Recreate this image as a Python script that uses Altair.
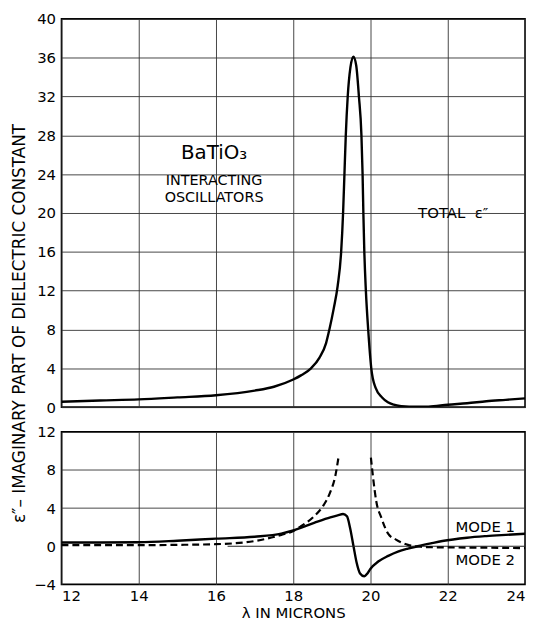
import altair as alt
import pandas as pd

# ---- data ----
tot_lam = [12.0, 13.0, 14.0, 15.0, 16.0, 17.0, 17.5, 18.0, 18.2, 18.46, 18.68, 18.85, 18.93, 19.05,
           19.15, 19.24, 19.29, 19.325, 19.36, 19.41, 19.48, 19.556, 19.63, 19.70, 19.765, 19.795,
           19.815, 19.84, 19.88, 19.94, 20.02, 20.13, 20.30, 20.45, 20.6, 20.8, 21.0, 21.5, 22.0,
           22.5, 23.0, 23.5, 24.0]
tot_val = [0.55, 0.68, 0.8, 1.0, 1.22, 1.7, 2.1, 2.85, 3.27, 4.0, 5.1, 6.6, 7.9, 10.2,
           12.5, 16.0, 20.0, 24.0, 28.0, 32.0, 35.0, 36.1, 35.2, 32.0, 28.0, 24.0,
           20.0, 16.0, 12.0, 8.0, 4.0, 2.0, 1.0, 0.5, 0.25, 0.1, 0.05, 0.05, 0.25,
           0.4, 0.6, 0.75, 0.9]

m1_lam = [12.0, 13.0, 14.0, 15.0, 16.0, 17.0, 17.69, 18.0, 18.54, 18.96, 19.15, 19.29, 19.39, 19.47,
          19.56, 19.64, 19.73, 19.84, 19.92, 20.0, 20.2, 20.46, 20.71, 20.97, 21.22, 21.56, 21.86,
          22.5, 23.0, 23.5, 24.0]
m1_val = [0.4, 0.4, 0.42, 0.58, 0.8, 1.0, 1.33, 1.67, 2.46, 3.04, 3.25, 3.38, 3.14, 1.95,
          0.0, -1.7, -2.85, -3.15, -2.85, -2.35, -1.6, -1.0, -0.55, -0.24, 0.0, 0.3, 0.55,
          0.9, 1.07, 1.2, 1.32]

m2a_lam = [12.0, 13.0, 14.0, 15.0, 16.0, 17.0, 17.69, 18.0, 18.2, 18.54, 18.79, 18.96, 19.09, 19.17]
m2a_val = [0.12, 0.12, 0.12, 0.15, 0.22, 0.55, 1.19, 1.6, 2.1, 3.14, 4.34, 5.7, 7.4, 9.3]
m2b_lam = [20.01, 20.07, 20.15, 20.28, 20.46, 20.66, 20.8, 20.97, 21.3, 21.6, 22.0, 23.0, 24.0]
m2b_val = [9.3, 7.1, 4.7, 3.0, 1.3, 0.7, 0.4, 0.15, -0.05, -0.1, -0.12, -0.15, -0.2]

x_ticks = [12, 14, 16, 18, 20, 22, 24]
top_ticks = [0, 4, 8, 12, 16, 20, 24, 28, 32, 36, 40]
bot_ticks = [-4, 0, 4, 8, 12]
bot_grid = [4, 8]
zero_from, zero_to = 16.3, 24.0

top_labels = ["BaTiO₃", "INTERACTING", "OSCILLATORS", "TOTAL\u00a0\u00a0ε″"]
top_lab_x = [15.95, 15.95, 15.95, 22.14]
top_lab_y = [26.2, 23.25, 21.5, 20.0]
top_lab_fs = [20, 14.5, 14.5, 15]

bot_labels = ["MODE 1", "MODE 2"]
bot_lab_x = [22.97, 22.97]
bot_lab_y = [2.0, -1.45]

Y_TITLE = "ε″– IMAGINARY PART OF DIELECTRIC CONSTANT"
X_TITLE = "λ IN MICRONS"
FONT = "DejaVu Sans"
W, H_TOP, H_BOT = 468, 392, 154

xscale = alt.Scale(domain=[12, 24], nice=False)

# ---- top panel ----
top_df = pd.DataFrame({"lam": tot_lam, "val": tot_val})
top_line = alt.Chart(top_df).mark_line(color="black", strokeWidth=2.4, clip=True,
                                       interpolate="monotone").encode(
    x=alt.X("lam:Q", scale=xscale,
            axis=alt.Axis(values=x_ticks, labels=False, title=None, grid=True)),
    y=alt.Y("val:Q", scale=alt.Scale(domain=[0, 40], nice=False),
            axis=alt.Axis(values=top_ticks, grid=True, labelOverlap=False, labelBound=False,
                          title=Y_TITLE,
                          titleAngle=270, titleX=-33, titleY=307, titleFontSize=17,
                          titleAlign="center", titleBaseline="bottom")),
)
top_txt_df = pd.DataFrame({"t": top_labels, "lam": top_lab_x, "val": top_lab_y, "fs": top_lab_fs})
top_txt = alt.Chart(top_txt_df).mark_text(font=FONT, color="black", align="center",
                                          baseline="middle").encode(
    x=alt.X("lam:Q", axis=None), y=alt.Y("val:Q", axis=None), text="t:N",
    size=alt.Size("fs:Q", scale=None, legend=None),
)
top = alt.layer(top_line, top_txt).resolve_axis(x="independent", y="independent").properties(
    width=W, height=H_TOP)

# ---- bottom panel ----
m1_df = pd.DataFrame({"lam": m1_lam, "val": m1_val})
m2_df = pd.DataFrame({
    "lam": m2a_lam + m2b_lam,
    "val": m2a_val + m2b_val,
    "seg": ["a"] * len(m2a_lam) + ["b"] * len(m2b_lam),
})
grid_df = pd.DataFrame({"g": bot_grid})
zero_df = pd.DataFrame({"x1": [zero_from], "x2": [zero_to], "y": [0]})

ybot = alt.Scale(domain=[-4, 12], nice=False)

m1_line = alt.Chart(m1_df).mark_line(color="black", strokeWidth=2.4, clip=True,
                                     interpolate="monotone").encode(
    x=alt.X("lam:Q", scale=xscale,
            axis=alt.Axis(values=x_ticks, grid=True, title=X_TITLE, labelPadding=4,
                          titlePadding=2, labelOverlap=False)),
    y=alt.Y("val:Q", scale=ybot,
            axis=alt.Axis(values=bot_ticks, grid=False, title=None, labelOverlap=False,
                          labelBound=False)),
)
grid_rules = alt.Chart(grid_df).mark_rule(color="#333333", strokeWidth=0.9).encode(
    y=alt.Y("g:Q", axis=None)
)
zero_rule = alt.Chart(zero_df).mark_rule(color="#222222", strokeWidth=1.1).encode(
    x=alt.X("x1:Q", axis=None), x2="x2:Q", y=alt.Y("y:Q", axis=None)
)
m2_line = alt.Chart(m2_df).mark_line(color="black", strokeWidth=2.2, strokeDash=[7, 4],
                                     clip=True, interpolate="monotone").encode(
    x=alt.X("lam:Q", axis=None), y=alt.Y("val:Q", axis=None), detail="seg:N"
)
bot_txt_df = pd.DataFrame({"t": bot_labels, "lam": bot_lab_x, "val": bot_lab_y})
bot_txt = alt.Chart(bot_txt_df).mark_text(font=FONT, fontSize=15, color="black",
                                          align="center", baseline="middle").encode(
    x=alt.X("lam:Q", axis=None), y=alt.Y("val:Q", axis=None), text="t:N"
)
bottom = alt.layer(m1_line, grid_rules, zero_rule, m2_line, bot_txt).resolve_axis(
    x="independent", y="independent").properties(width=W, height=H_BOT)

chart = alt.vconcat(top, bottom, spacing=25, bounds="flush").properties(
    padding={"left": 2, "top": 0, "right": 0, "bottom": 0}
).configure_view(
    stroke="black", strokeWidth=1.6
).configure_axis(
    labelFont=FONT, labelFontSize=15, labelColor="black", labelOverlap=False,
    titleFont=FONT, titleFontSize=15, titleColor="black", titleFontWeight="normal",
    gridColor="#333333", gridWidth=0.9, gridOpacity=1,
    ticks=False, domain=False, labelPadding=6,
)

chart.save("out.html", embed_options={"renderer": "svg", "actions": False})
